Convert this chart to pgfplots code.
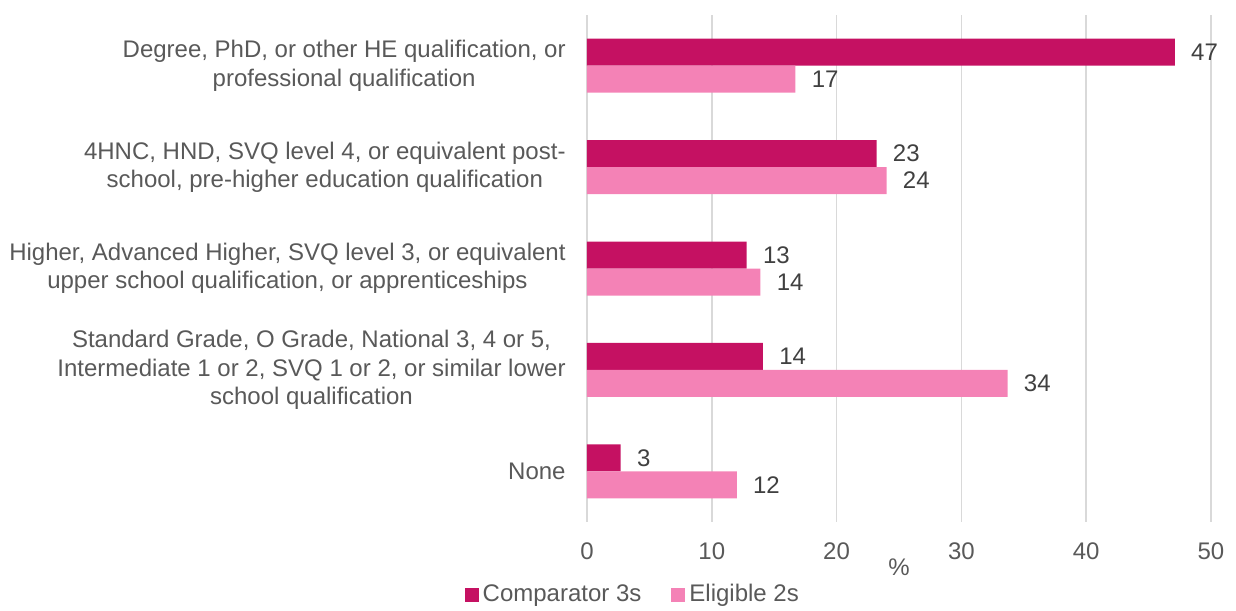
\documentclass[border=0pt]{standalone}
\usepackage{fontspec}
\setmainfont{Liberation Sans}
\usepackage{pgfplots}
\pgfplotsset{compat=1.18}
\definecolor{cdark}{HTML}{C51162}
\definecolor{clight}{HTML}{F482B6}
\definecolor{tgray}{HTML}{595959}
\definecolor{lgray}{HTML}{404040}
\definecolor{ggray}{HTML}{D9D9D9}
\begin{document}
\fontsize{12}{14.25}\selectfont
\begin{tikzpicture}
\begin{axis}[
  name=ax,
  at={(0,0)}, anchor=south west,
  scale only axis,
  width=312pt, height=253.5pt,
  xbar,
  bar width=13.5pt,
  xmin=0, xmax=50,
  ymin=-0.5, ymax=4.5,
  y dir=reverse,
  xtick={0,10,...,50},
  ytick={0,1,2,3,4},
  yticklabels={
    {Degree, PhD, or other HE qualification, or\\professional qualification},
    {4HNC, HND, SVQ level 4, or equivalent post-\\school, pre-higher education qualification},
    {Higher, Advanced Higher, SVQ level 3, or equivalent\\upper school qualification, or apprenticeships},
    {Standard Grade, O Grade, National 3, 4 or 5,\\Intermediate 1 or 2, SVQ 1 or 2, or similar lower\\school qualification},
    {None}},
  yticklabel style={align=center, font=\fontsize{12}{14.25}\selectfont, text=tgray, xshift=-6.5pt},
  xticklabel style={font=\fontsize{12}{14.25}\selectfont, text=tgray, yshift=-6pt},
  /pgf/number format/assume math mode=true,
  axis line style={draw=none},
  major tick length=0pt,
  xmajorgrids,
  grid style={ggray, line width=0.75pt},
  xlabel={\%},
  xlabel style={at={(axis description cs:0.5,0)}, anchor=center, yshift=-22.5pt, font=\fontsize{12}{14.25}\selectfont, text=tgray},
  nodes near coords,
  point meta=x,
  nodes near coords style={font=\fontsize{12}{14.25}\selectfont, text=lgray, /pgf/number format/fixed, /pgf/number format/precision=0, xshift=4pt},
  legend style={at={(axis description cs:0.075,0)}, anchor=center, yshift=-36.5pt, draw=none, fill=none, legend columns=2, font=\fontsize{12}{14.25}\selectfont, text=tgray, /tikz/every even column/.append style={column sep=13pt}, inner sep=0pt},
  legend image code/.code={\fill[#1] (0pt,-3.5pt) rectangle (7pt,3.5pt);},
  legend cell align=left,
]
\addplot[fill=cdark, draw=none, bar shift=6.75pt] coordinates {(47.1,0) (23.2,1) (12.8,2) (14.1,3) (2.7,4)};
\addplot[fill=clight, draw=none, bar shift=-6.75pt] coordinates {(16.7,0) (24.0,1) (13.9,2) (33.7,3) (12.0,4)};
\legend{Comparator 3s, Eligible 2s}
\end{axis}
\pgfresetboundingbox
\path[use as bounding box] (-293.5pt,-44pt) rectangle (324.5pt,261pt);
\end{tikzpicture}
\end{document}
